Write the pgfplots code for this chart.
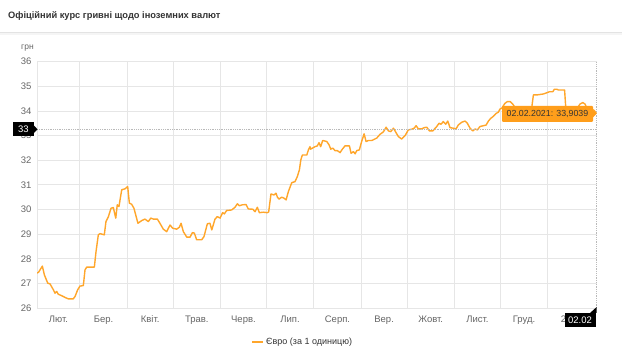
\documentclass[border=0pt]{standalone}
\usepackage{pgfplots}
\pgfplotsset{compat=1.18}
\usepackage{fontspec}
\setmainfont{Liberation Sans}
\definecolor{lineor}{HTML}{FFA62B}
\definecolor{boxor}{HTML}{FF9E1B}
\definecolor{txt}{HTML}{333333}
\definecolor{tickc}{HTML}{666666}
\definecolor{grd}{HTML}{E6E6E6}
\pgfplotstableread{
d v
0 27.42
1 27.45
3.5 27.70
4.8 27.35
7 27.01
8.5 26.98
10.7 26.74
11.8 26.60
12.9 26.67
13.9 26.56
16.1 26.50
18.3 26.43
20.5 26.37
23.7 26.37
24.9 26.47
26.6 26.74
28.1 26.89
30.3 26.91
31.4 27.55
32.5 27.66
37.5 27.66
38.6 28.29
40.1 28.97
41.2 29.02
44.0 28.97
45.1 29.51
46.7 29.71
48.4 30.05
49.9 30.08
51.5 29.65
52.5 30.19
53.6 30.12
55.4 30.80
57.6 30.84
59.3 30.93
60.4 30.26
61.9 30.21
63.4 30.05
66.0 29.44
68.5 29.55
70.6 29.61
72.8 29.51
74.4 29.65
76.1 29.61
78.7 29.61
80.4 29.44
82.6 29.20
84.8 29.10
87.0 29.37
88.7 29.24
91.3 29.20
93.1 29.28
94.2 29.44
95.7 29.10
97.9 28.88
100.1 28.88
101.6 29.06
102.9 29.04
104.4 28.77
107.7 28.77
109.2 28.90
111.4 29.42
113.1 29.44
114.3 29.17
116.4 29.61
117.9 29.71
119.7 29.65
121.4 29.87
122.5 29.82
124.0 29.96
127.3 29.98
129.5 30.09
131.0 30.23
132.3 30.15
134.3 30.19
136.7 30.20
138.2 30.02
141.1 30.01
142.6 29.91
144.1 30.09
145.4 29.87
148.0 29.89
150.6 29.87
151.5 29.90
153.0 30.63
155.0 30.59
156.3 30.66
157.2 30.50
158.3 30.42
160.0 30.50
161.5 30.46
162.9 30.39
164.4 30.73
166.6 31.09
168.7 31.13
170.2 31.33
171.6 31.61
172.5 32.01
173.5 32.21
176.4 32.21
177.5 32.42
178.5 32.55
179.0 32.45
180.1 32.49
181.8 32.55
183.3 32.58
184.4 32.71
185.5 32.55
186.8 32.80
189.5 32.76
191.0 32.62
192.1 32.45
193.4 32.49
194.9 32.39
196.4 32.39
198.2 32.31
199.7 32.45
201.4 32.58
204.3 32.58
205.4 32.28
206.9 32.35
208.0 32.26
209.1 32.39
210.8 32.42
212.3 32.76
213.9 33.07
215.2 32.76
216.7 32.80
218.9 32.80
220.6 32.85
222.2 32.90
224.3 33.05
226.5 33.15
228.3 33.34
229.8 33.19
231.3 33.16
233.1 33.30
234.6 33.14
236.3 32.96
238.5 32.86
240.7 33.00
242.8 33.23
245.1 33.26
246.6 33.30
247.9 33.40
249.4 33.27
251.6 33.27
253.1 33.32
254.9 33.34
256.6 33.19
258.8 33.19
261.4 33.37
262.9 33.50
264.2 33.46
265.7 33.57
267.3 33.46
268.6 33.59
270.1 33.32
272.3 33.30
274.0 33.27
275.5 33.43
277.7 33.54
279.9 33.59
281.4 33.50
283.2 33.30
285.0 33.19
286.5 33.27
288.0 33.23
289.7 33.37
291.9 33.40
293.7 33.43
295.2 33.59
296.7 33.70
298.4 33.78
300.2 33.90
301.7 33.95
302.8 34.08
303.9 34.11
306.0 34.31
307.6 34.38
309.4 34.38
311.1 34.28
313.0 34.10
316.0 34.00
319.0 34.02
323.5 34.12
324.6 34.65
326.8 34.65
331.2 34.69
333.4 34.74
335.1 34.78
337.3 34.78
338.3 34.88
339.9 34.88
341.0 34.85
345.0 34.85
345.8 34.11
348.0 33.95
352.0 34.00
355.1 34.28
356.9 34.34
358.4 34.28
359.5 34.11
362.0 34.05
364.0 34.04
366.0 33.90
}\eurodata
\begin{document}
\begin{tikzpicture}
\fill[white] (0pt,0pt) rectangle (622pt,350pt);
\path[use as bounding box] (0pt,0pt) rectangle (622pt,350pt);
\begin{axis}[
  at={(37pt,42pt)}, anchor=south west,
  scale only axis, width=559.7pt, height=246.3pt,
  xmin=0, xmax=366, ymin=26, ymax=36,
  axis line style={draw=none},
  major tick length=0pt, minor tick length=0pt,
  ytick={26,27,...,36},
  xtick={14,43.5,74,104.5,135,165.5,196.5,227,257.5,288,318.5,349.5},
  xticklabels={Лют.,Бер.,Квіт.,Трав.,Черв.,Лип.,Серп.,Вер.,Жовт.,Лист.,Груд.,2021},
  minor xtick={0,28,59,89,120,150,181,212,242,273,303,334},
  ymajorgrids, xminorgrids,
  major grid style={draw=grd, line width=0.8pt},
  minor grid style={draw=grd, line width=0.8pt},
  /pgf/number format/assume math mode=true,
  tick label style={font=\fontsize{9.5}{11}\selectfont, text=tickc},
  xticklabel style={yshift=-4pt},
  yticklabel style={xshift=-2pt},
]
\addplot[lineor, line width=1.4pt, line join=round] table[x=d, y=v] {\eurodata};
\end{axis}
\begin{scope}[x=1pt,y=1pt]
\node[anchor=west, text=txt, font=\fontsize{9.3}{11}\selectfont\bfseries, inner sep=0] at (8,334) {Офіційний курс гривні щодо іноземних валют};
\fill[gray!8] (0,314.5) rectangle (622,318);
\draw[gray!22, line width=0.8pt] (0,317.8) -- (622,317.8);
\node[anchor=west, text=tickc, font=\fontsize{8.5}{10}\selectfont, inner sep=0] at (21,302) {грн};
% crosshair
\draw[gray!55, densely dotted, line width=0.8pt] (37,220.7) -- (596.7,220.7);
\draw[gray!55, densely dotted, line width=0.8pt] (596.7,42) -- (596.7,288);
\node[fill=black, text=white, inner sep=0, minimum width=21pt, minimum height=14pt, font=\fontsize{9.5}{11}\selectfont] at (23.5,220.7) {33};
\fill[black] (33.9,224.5) -- (37.5,220.7) -- (33.9,216.9) -- cycle;
\node[fill=black, text=white, inner sep=0, minimum width=31pt, minimum height=14pt, font=\fontsize{9.5}{11}\selectfont] at (580,30) {02.02};
\fill[black] (590,37) -- (596.7,43) -- (596.7,37) -- cycle;
% tooltip
\node[fill=boxor, text=txt, inner sep=0, rounded corners=1pt, minimum width=91pt, minimum height=16pt, font=\fontsize{8.8}{10}\selectfont] at (547.5,236) {02.02.2021: 33,9039};
\fill[boxor] (592.9,240) -- (596.9,236.7) -- (592.9,232.4) -- cycle;
% legend
\draw[lineor, line width=1.5pt] (252,8) -- (263,8);
\node[anchor=west, text=txt, font=\fontsize{9}{11}\selectfont, inner sep=0] at (266,8) {Євро (за 1 одиницю)};
\end{scope}
\end{tikzpicture}
\end{document}
